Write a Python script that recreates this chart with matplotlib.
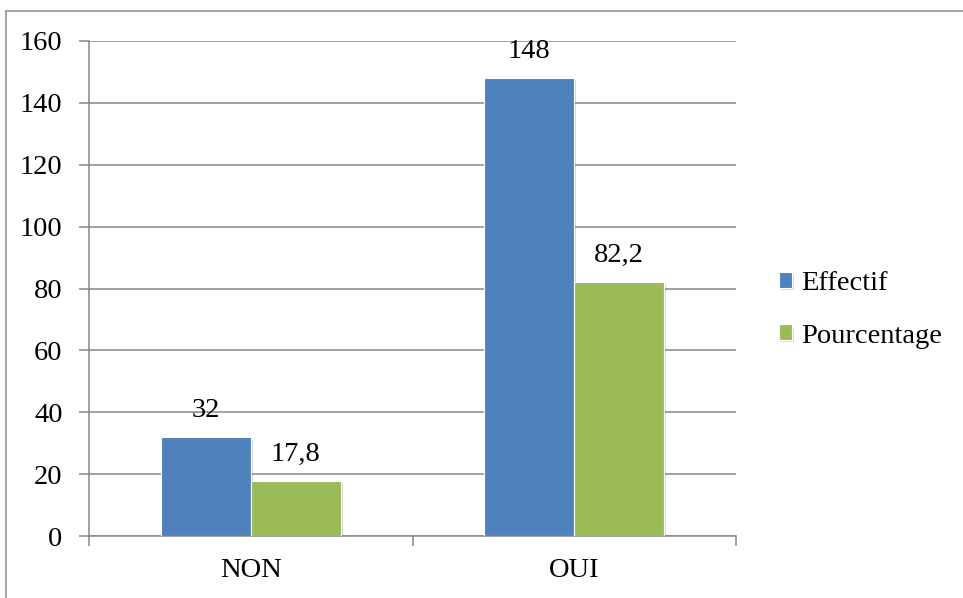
import numpy as np
import matplotlib.pyplot as plt
import matplotlib.lines as mlines
import matplotlib.patheffects as pe

# --- data ---
categories = ["NON", "OUI"]
effectif = [32, 148]
pourcentage = [17.8, 82.2]
effectif_labels = ["32", "148"]
pourcentage_labels = ["17,8", "82,2"]
series_names = ["Effectif", "Pourcentage"]
y_ticks = [0, 20, 40, 60, 80, 100, 120, 140, 160]

# --- style ---
BLUE = "#4F81BD"
GREEN = "#9BBB59"
GRID = "#868686"
FS = 20.5

plt.rcParams.update({
    "font.family": ["Liberation Serif", "DejaVu Serif"],
    "font.size": FS,
})

fig = plt.figure(figsize=(9.63, 5.98), dpi=100)
ax = fig.add_axes([89 / 963, 62 / 598, 647 / 963, 495 / 598])

x = np.arange(len(categories))
w = 0.278
shadow = [pe.SimplePatchShadow(offset=(1.5, -1.5), alpha=0.18), pe.Normal()]

b1 = ax.bar(x - w / 2, effectif, w, color=BLUE, edgecolor="white",
            linewidth=0.8, label=series_names[0], zorder=3)
b2 = ax.bar(x + w / 2, pourcentage, w, color=GREEN, edgecolor="white",
            linewidth=0.8, label=series_names[1], zorder=3)
for bars in (b1, b2):
    for p in bars:
        p.set_path_effects(shadow)

for bars, labels in ((b1, effectif_labels), (b2, pourcentage_labels)):
    for p, lab in zip(bars, labels):
        ax.annotate(lab, (p.get_x() + p.get_width() / 2, p.get_height()),
                    xytext=(0, 14.5), textcoords="offset points",
                    ha="center", va="baseline", fontsize=FS, zorder=4)

ax.set_xlim(-0.5, 1.5)
ax.set_ylim(0, 160)
ax.set_yticks(y_ticks)
ax.yaxis.grid(True, color=GRID, linewidth=1.1, zorder=0)
ax.set_axisbelow(True)

# category boundary ticks (major, no label), centered labels (minor)
ax.set_xticks([-0.5, 0.5, 1.5])
ax.set_xticklabels([])
ax.set_xticks(x, minor=True)
ax.set_xticklabels(categories, minor=True)
ax.tick_params(axis="x", which="major", length=7, width=1.1, color=GRID,
               direction="out")
ax.tick_params(axis="x", which="minor", length=0, pad=16)
ax.tick_params(axis="y", length=7, width=1.1, color=GRID, pad=12)

for s in ("top", "right"):
    ax.spines[s].set_visible(False)
for s in ("left", "bottom"):
    ax.spines[s].set_color(GRID)
    ax.spines[s].set_linewidth(1.1)

ax.legend(handles=[b1, b2], loc="center left", frameon=False,
          bbox_to_anchor=(753 / 963, 1 - 310 / 598), bbox_transform=fig.transFigure,
          handlelength=0.48, handleheight=0.48, handletextpad=0.3,
          labelspacing=0.95, fontsize=FS)

# outer frame (top and left edges visible in the crop)
fig.add_artist(mlines.Line2D([6 / 963, 1.0], [1 - 11 / 598, 1 - 11 / 598],
                             color="#8c8c8c", linewidth=1.1))
fig.add_artist(mlines.Line2D([6 / 963, 6 / 963], [0, 1 - 11 / 598],
                             color="#8c8c8c", linewidth=1.1))

fig.savefig("out.png", dpi=100)
